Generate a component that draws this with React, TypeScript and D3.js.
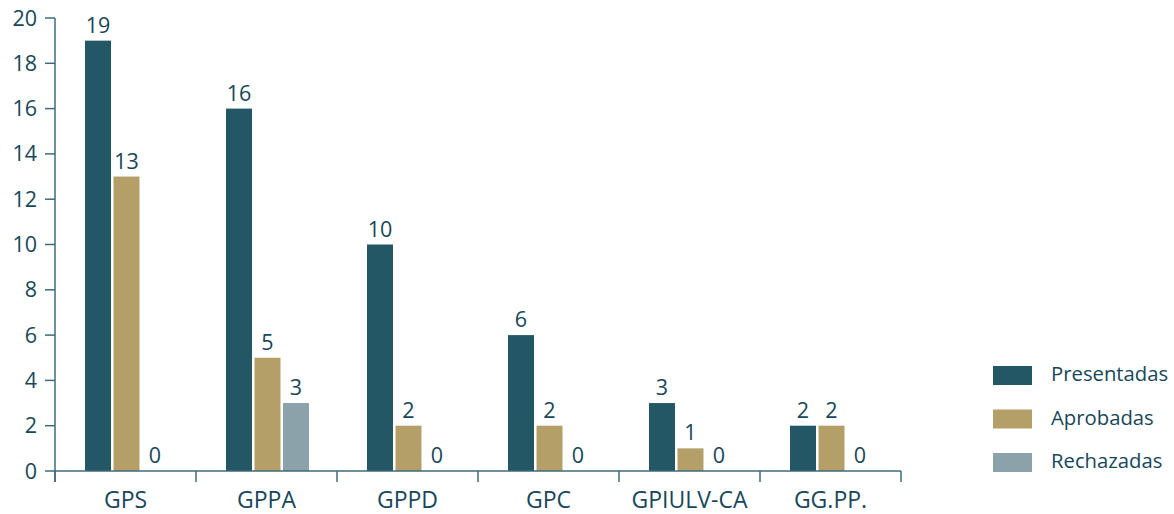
import React from "react";
import * as d3 from "d3";

const categories = ["GPS", "GPPA", "GPPD", "GPC", "GPIULV-CA", "GG.PP."];
const seriesNames = ["Presentadas", "Aprobadas", "Rechazadas"];
const presentadas = [19, 16, 10, 6, 3, 2];
const aprobadas = [13, 5, 2, 2, 1, 2];
const rechazadas = [0, 3, 0, 0, 0, 0];
const yTicks = [0, 2, 4, 6, 8, 10, 12, 14, 16, 18, 20];
const colors = ["#235766", "#b59f69", "#8ba2ab"];

const seriesValues = [presentadas, aprobadas, rechazadas];
const textColor = "#17475a";
const axisColor = "#3f6a78";
const font = "'Open Sans', sans-serif";

export default function App() {
  const width = 1174;
  const height = 514;
  const left = 55;
  const right = 901;
  const top = 18;
  const bottom = 471;

  const x = d3.scaleBand<string>().domain(categories).range([left, right]).paddingInner(0).paddingOuter(0);
  const y = d3.scaleLinear().domain([0, 20]).range([bottom, top]);
  const bw = 26;
  const gap = 2.5;
  const groupW = bw * 3 + gap * 2;

  return (
    <svg width={width} height={height} style={{ position: "absolute", left: 0, top: 0, fontFamily: font }}>
      <rect width={width} height={height} fill="#fff" />
      {categories.map((c, i) => {
        const x0 = (x(c) as number) + x.bandwidth() / 2 - groupW / 2 + 1;
        return (
          <g key={c}>
            {seriesValues.map((vals, s) => {
              const v = vals[i];
              const bx = x0 + s * (bw + gap);
              return (
                <g key={s}>
                  {v > 0 && (
                    <rect x={bx} y={y(v)} width={bw} height={bottom - y(v)} fill={colors[s]} />
                  )}
                  <text
                    x={bx + bw / 2}
                    y={y(v) - 8}
                    textAnchor="middle"
                    fontSize={21.5}
                    fontWeight={500}
                    fill={textColor}
                  >
                    {v}
                  </text>
                </g>
              );
            })}
          </g>
        );
      })}
      {/* y axis */}
      <line x1={left} x2={left} y1={top} y2={bottom + 11} stroke={axisColor} strokeWidth={1.5} />
      {yTicks.map((t) => (
        <g key={t}>
          <line x1={left - 10} x2={left} y1={y(t)} y2={y(t)} stroke={axisColor} strokeWidth={1.5} />
          <text x={37} y={y(t) + 7.5} textAnchor="end" fontSize={21.5} fontWeight={500} fill={textColor}>
            {t}
          </text>
        </g>
      ))}
      {/* x axis */}
      <line x1={left} x2={right} y1={bottom} y2={bottom} stroke={axisColor} strokeWidth={1.5} />
      {[...categories.map((c) => x(c) as number), right].map((px, i) => (
        <line key={i} x1={px} x2={px} y1={bottom} y2={bottom + 11} stroke={axisColor} strokeWidth={1.5} />
      ))}
      {categories.map((c) => (
        <text
          key={c}
          x={(x(c) as number) + x.bandwidth() / 2}
          y={507.5}
          textAnchor="middle"
          fontSize={23}
          fontWeight={500}
          fill={textColor}
        >
          {c}
        </text>
      ))}
      {/* legend */}
      {seriesNames.map((n, i) => (
        <g key={n} transform={`translate(993, ${366 + i * 43.5})`}>
          <rect width={39} height={19} fill={colors[i]} />
          <text x={58} y={15} fontSize={20.3} fontWeight={500} fill={textColor}>
            {n}
          </text>
        </g>
      ))}
    </svg>
  );
}
